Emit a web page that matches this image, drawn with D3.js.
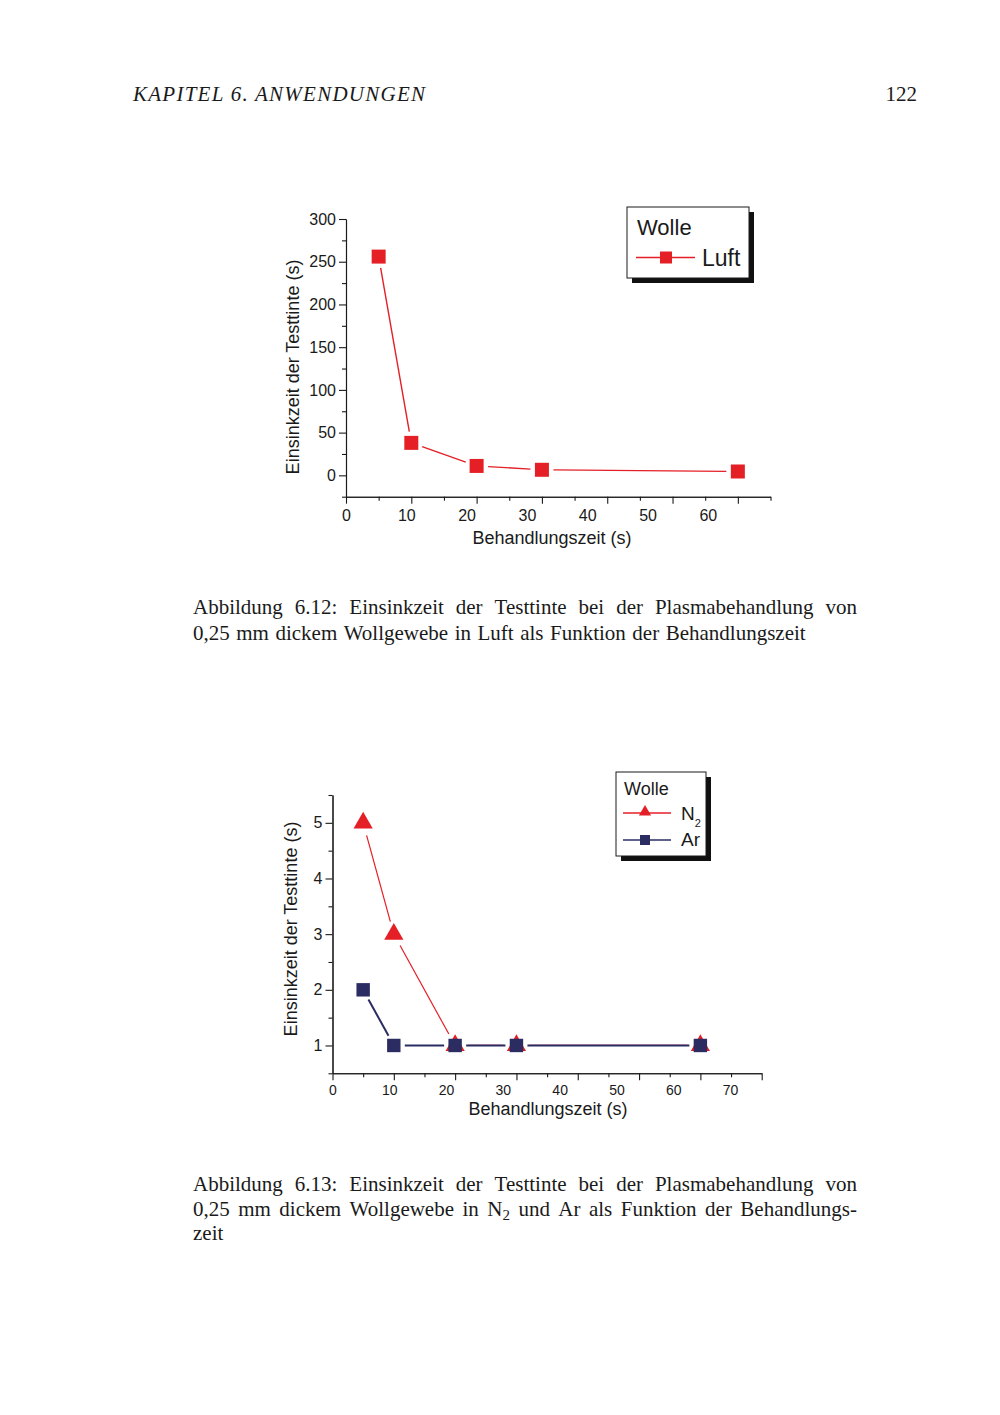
<!DOCTYPE html>
<html>
<head>
<meta charset="utf-8">
<script src="https://cdn.jsdelivr.net/npm/d3@7"></script>
<style>
  body { margin: 0; background: #fff; }
  svg { display: block; }
</style>
</head>
<body>
<svg id="page" width="1000" height="1415"></svg>
<script>
'use strict';

// Abb. 6.12 - Luft
var timeLuft = [5, 10, 20, 30, 60];
var luft = [256, 38, 11, 6.5, 4.5];
var xTicksTop = [0, 10, 20, 30, 40, 50, 60];
var yTicksTop = [0, 50, 100, 150, 200, 250, 300];

// Abb. 6.13 - N2 und Ar
var timeGas = [5, 10, 20, 30, 60];
var n2 = [5, 3, 1, 1, 1];
var ar = [2, 1, 1, 1, 1];
var xTicksBottom = [0, 10, 20, 30, 40, 50, 60, 70];
var yTicksBottom = [1, 2, 3, 4, 5];

var RED = '#e41f26', NAVY = '#2a2c62', INK = '#1a1a1a';
var SANS = '"Liberation Sans", Arial, sans-serif';
var SERIF = '"Liberation Serif", "DejaVu Serif", serif';

var svg = d3.select('#page');
svg.append('rect').attr('width', 1000).attr('height', 1415).attr('fill', '#fff');

// page header
svg.append('text').attr('x', 133).attr('y', 101)
  .attr('font-family', SERIF).attr('font-style', 'italic').attr('font-size', 21)
  .attr('textLength', 292).attr('lengthAdjust', 'spacing')
  .attr('fill', INK).text('KAPITEL 6.  ANWENDUNGEN');
svg.append('text').attr('x', 917).attr('y', 101).attr('text-anchor', 'end')
  .attr('font-family', SERIF).attr('font-size', 21).attr('fill', INK).text('122');

function drawAxes(c) {
  var g = svg.append('g');
  var x = c.x, y = c.y;
  var y0 = y.range()[0], x0 = x.range()[0];

  // x: ticks on the data scale, labels on their own scale (as printed)
  var gx = g.append('g').attr('transform', 'translate(0,' + y0 + ')');
  gx.call(d3.axisBottom(x).tickValues(c.xMinor).tickSize(4).tickSizeOuter(0).tickFormat(''));
  gx.append('g').call(d3.axisBottom(x).tickValues(c.xMajor).tickSize(7).tickSizeOuter(0).tickFormat(''));
  var labels = gx.append('g').call(d3.axisBottom(c.xLabel).tickValues(c.xTicks).tickSize(0)
    .tickPadding(c.xPad).tickFormat(d3.format('d')));
  labels.select('.domain').remove();

  var gy = g.append('g').attr('transform', 'translate(' + x0 + ',0)');
  gy.call(d3.axisLeft(y).tickValues(c.yMinor).tickSize(4).tickSizeOuter(0).tickFormat(''));
  gy.append('g').call(d3.axisLeft(y).tickValues(c.yTicks).tickSize(7).tickSizeOuter(0)
    .tickPadding(3).tickFormat(d3.format('d')));

  g.selectAll('.domain, .tick line').attr('stroke', INK).attr('stroke-width', 1.1);
  gx.selectAll('text').attr('font-family', SANS).attr('font-size', c.xFont).attr('fill', INK);
  gy.selectAll('text').attr('font-family', SANS).attr('font-size', 16).attr('fill', INK);

  g.append('text').attr('x', c.xTitle[0]).attr('y', c.xTitle[1]).attr('text-anchor', 'middle')
    .attr('font-family', SANS).attr('font-size', 18).attr('fill', INK).text('Behandlungszeit (s)');
  g.append('text').attr('transform', 'translate(' + c.yTitle[0] + ',' + c.yTitle[1] + ') rotate(-90)')
    .attr('text-anchor', 'middle').attr('font-family', SANS).attr('font-size', 18).attr('fill', INK)
    .text('Einsinkzeit der Testtinte (s)');
}

// Origin style line: segments stop short of the markers
function drawSeries(x, y, xs, ys, color, symbol, size, gap, width) {
  var pts = xs.map(function (d, i) { return [x(d), y(ys[i])]; });
  var g = svg.append('g');
  d3.pairs(pts).forEach(function (p) {
    var dx = p[1][0] - p[0][0], dy = p[1][1] - p[0][1];
    var len = Math.sqrt(dx * dx + dy * dy);
    if (len < 2 * gap + 2) return;
    var ux = dx / len, uy = dy / len;
    g.append('line')
      .attr('x1', p[0][0] + ux * gap).attr('y1', p[0][1] + uy * gap)
      .attr('x2', p[1][0] - ux * gap).attr('y2', p[1][1] - uy * gap)
      .attr('stroke', color).attr('stroke-width', width);
  });
  g.selectAll('path.pt').data(pts).enter().append('path')
    .attr('transform', function (d) { return 'translate(' + d[0] + ',' + d[1] + ')'; })
    .attr('d', d3.symbol().type(symbol).size(size))
    .attr('fill', color);
}

function legend(box, title, titleSize, items) {
  var g = svg.append('g');
  g.append('rect').attr('x', box[0] + 5).attr('y', box[1] + 5).attr('width', box[2]).attr('height', box[3])
    .attr('fill', '#111');
  g.append('rect').attr('x', box[0]).attr('y', box[1]).attr('width', box[2]).attr('height', box[3])
    .attr('fill', '#fff').attr('stroke', INK).attr('stroke-width', 1);
  g.append('text').attr('x', title[0]).attr('y', title[1]).attr('font-family', SANS)
    .attr('font-size', titleSize).attr('fill', INK).text('Wolle');
  items.forEach(function (it) {
    g.append('line').attr('x1', it.line[0]).attr('x2', it.line[1]).attr('y1', it.line[2]).attr('y2', it.line[2])
      .attr('stroke', it.color).attr('stroke-width', 1.4);
    g.append('path').attr('transform', 'translate(' + it.mark[0] + ',' + it.mark[1] + ')')
      .attr('d', d3.symbol().type(it.symbol).size(it.size)).attr('fill', it.color);
    var t = g.append('text').attr('x', it.text[0]).attr('y', it.text[1]).attr('font-family', SANS)
      .attr('font-size', it.font).attr('fill', INK).text(it.label);
    if (it.sub) t.append('tspan').attr('font-size', 11).attr('dy', 7).text(it.sub);
  });
}

// ---------- chart 1 ----------
var xA = d3.scaleLinear().domain([0, 65]).range([346, 770.5]);
var xAlab = d3.scaleLinear().domain([0, 65]).range([346, 738]);
var yA = d3.scaleLinear().domain([-25, 300]).range([496.7, 219]);
drawAxes({
  x: xA, y: yA, xLabel: xAlab, xTicks: xTicksTop,
  xMajor: xTicksTop, xMinor: d3.range(5, 66, 10),
  yTicks: yTicksTop, yMinor: d3.range(-25, 300, 50),
  xPad: 12.5, xFont: 16, xTitle: [552, 544], yTitle: [299, 367]
});
drawSeries(xA, yA, timeLuft, luft, RED, d3.symbolSquare, 196, 11.5, 1.4);
legend([627, 207, 122, 71], [637, 235], 22, [
  { line: [636, 695, 257.5], mark: [666, 257.5], symbol: d3.symbolSquare, size: 144,
    color: RED, text: [702, 266], font: 23, label: 'Luft' }
]);

// ---------- chart 2 ----------
var xB = d3.scaleLinear().domain([0, 70]).range([332.5, 761.7]);
var xBlab = d3.scaleLinear().domain([0, 70]).range([332.5, 730]);
var yB = d3.scaleLinear().domain([0.5, 5.5]).range([1073.3, 795]);
drawAxes({
  x: xB, y: yB, xLabel: xBlab, xTicks: xTicksBottom,
  xMajor: xTicksBottom, xMinor: d3.range(5, 70, 10),
  yTicks: yTicksBottom, yMinor: d3.range(0.5, 5.6, 1),
  xPad: 12, xFont: 14, xTitle: [548, 1115], yTitle: [297, 929]
});
drawSeries(xB, yB, timeGas, n2, RED, d3.symbolTriangle, 160, 13, 1.2);
drawSeries(xB, yB, timeGas, ar, NAVY, d3.symbolSquare, 180, 11, 2);
legend([616, 772, 90, 84], [624, 795], 18, [
  { line: [623, 671, 813], mark: [645, 812], symbol: d3.symbolTriangle, size: 64,
    color: RED, text: [681, 820], font: 19, label: 'N', sub: '2' },
  { line: [623, 671, 840], mark: [645, 840], symbol: d3.symbolSquare, size: 100,
    color: NAVY, text: [681, 846], font: 19, label: 'Ar' }
]);

// ---------- captions (justified like the printed page) ----------
function captionLine(words, x0, x1, baseline, justify) {
  var t = svg.append('text').attr('y', baseline).attr('font-family', SERIF)
    .attr('font-size', 21).attr('fill', INK);
  var spans = words.map(function (w) {
    var s = t.append('tspan').attr('y', baseline);
    if (Array.isArray(w)) {
      s.append('tspan').text(w[0]);
      s.append('tspan').attr('font-size', 15).attr('dy', 4).text(w[1]);
    } else {
      s.text(w);
    }
    return s;
  });
  var widths = spans.map(function (s) { return s.node().getComputedTextLength(); });
  var gap = justify ? (x1 - x0 - d3.sum(widths)) / (words.length - 1) : 6.5;
  var cx = x0;
  spans.forEach(function (s, i) { s.attr('x', cx); cx += widths[i] + gap; });
}

captionLine('Abbildung 6.12: Einsinkzeit der Testtinte bei der Plasmabehandlung von'.split(' '), 193, 857, 614, true);
captionLine('0,25 mm dickem Wollgewebe in Luft als Funktion der Behandlungszeit'.split(' '), 193, 857, 640, false);

captionLine('Abbildung 6.13: Einsinkzeit der Testtinte bei der Plasmabehandlung von'.split(' '), 193, 857, 1191, true);
captionLine(['0,25', 'mm', 'dickem', 'Wollgewebe', 'in', ['N', '2'], 'und', 'Ar', 'als', 'Funktion', 'der',
  'Behandlungs-'], 193, 857, 1216, true);
captionLine(['zeit'], 193, 857, 1240, false);
</script>
</body>
</html>
